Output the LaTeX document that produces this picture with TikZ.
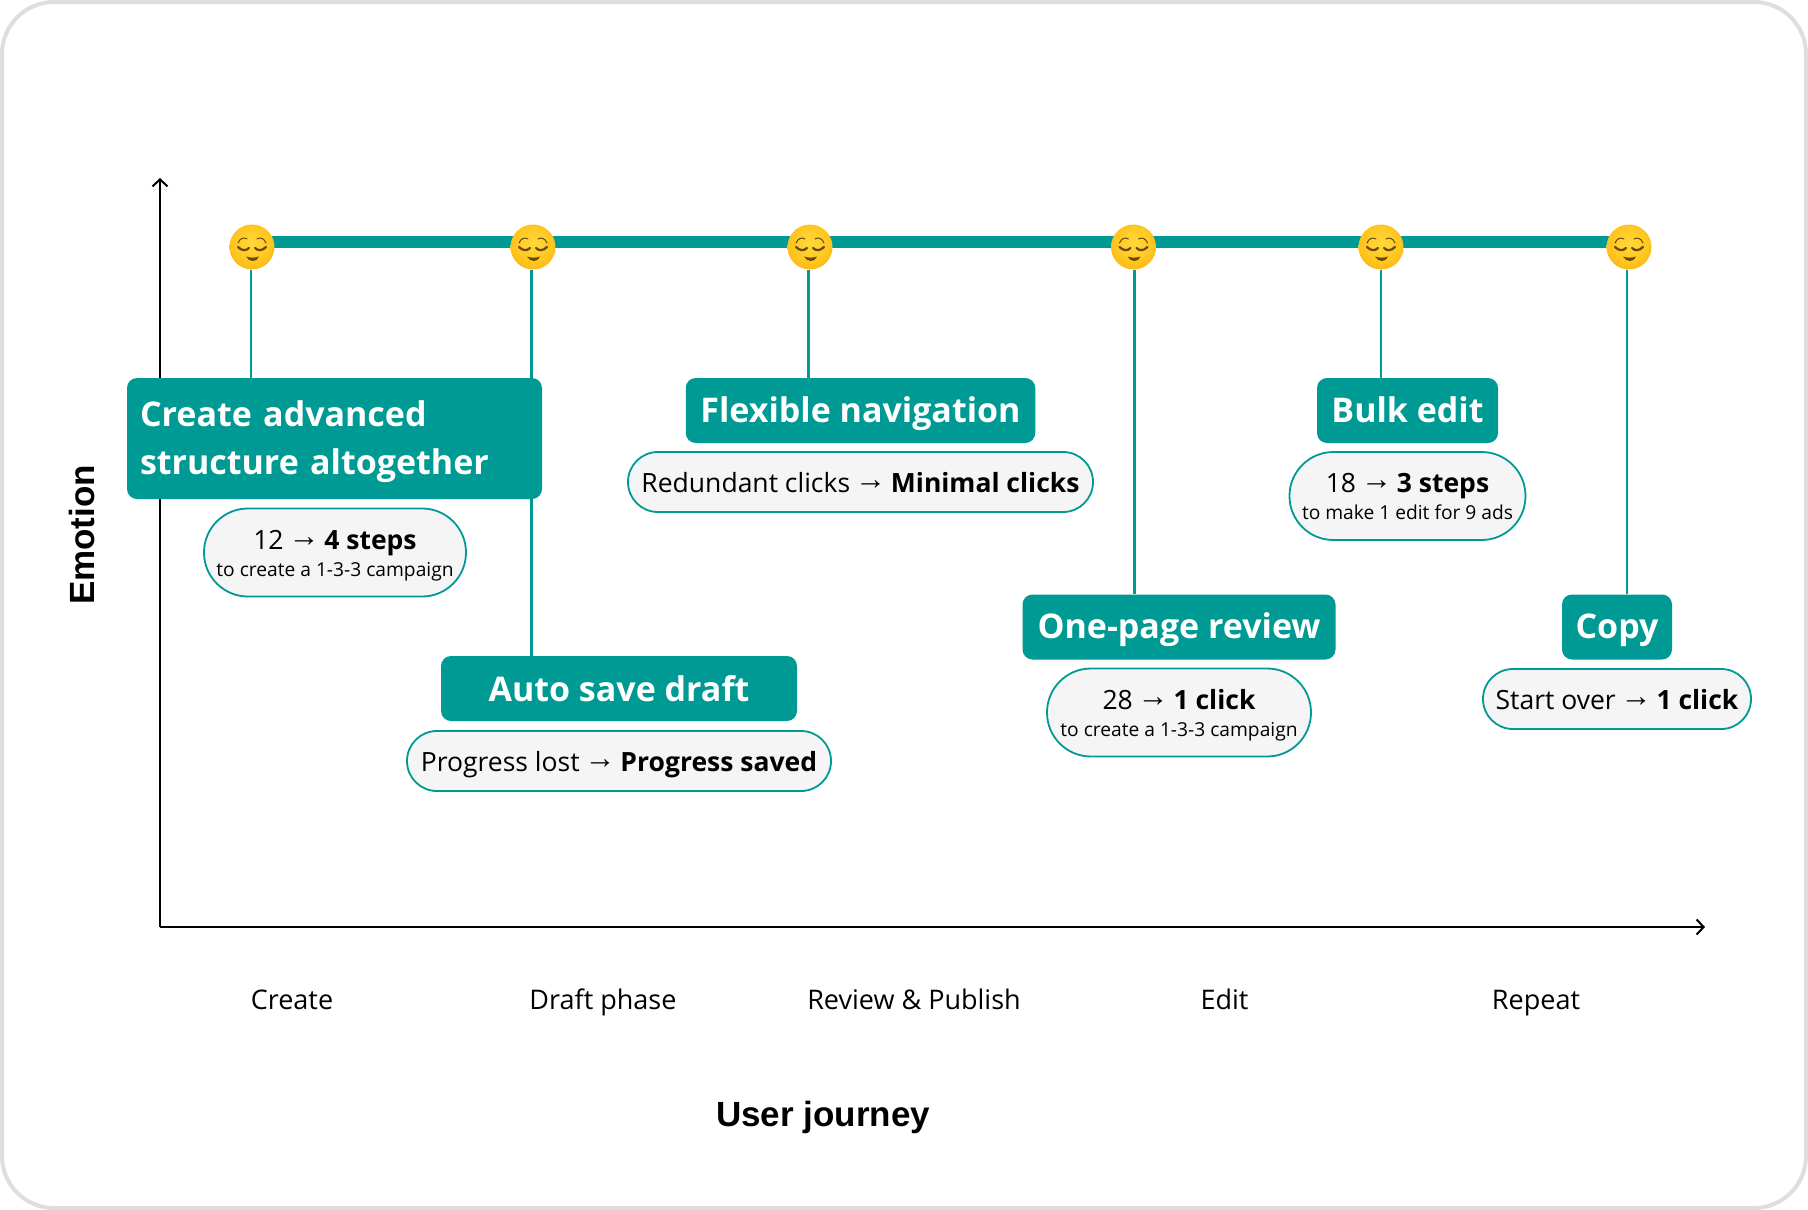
\documentclass[tikz,border=0pt]{standalone}
\usepackage{fontspec}
\setmainfont{Open Sans}
\newfontfamily\arrowfont{Liberation Sans}
\newfontfamily\axisfont{Liberation Sans}
\usetikzlibrary{arrows.meta, backgrounds}
\definecolor{teal1}{HTML}{009A94}
\definecolor{frameline}{HTML}{DEDEDE}
\definecolor{pillfill}{HTML}{F5F5F5}
\definecolor{faceline}{HTML}{6E4412}
\definecolor{faceA1}{HTML}{FFD93A}
\definecolor{faceA2}{HTML}{FFCB25}
\definecolor{faceA3}{HTML}{FFBE1A}
\definecolor{faceA4}{HTML}{F7A40F}
\definecolor{faceA5}{HTML}{E98E0C}
\pgfdeclareradialshading{relieved}{\pgfpoint{0bp}{5bp}}{
	color(0bp)=(faceA1);
	color(16bp)=(faceA2);
	color(26bp)=(faceA3);
	color(34bp)=(faceA4);
	color(40bp)=(faceA5);
	color(100bp)=(faceA5)}
\newcommand{\toarrow}{\kern-2pt\raisebox{3pt}{\arrowfont\fontsize{31}{31}\selectfont\char"2192}\kern-2pt}
\newcommand{\smalltxt}[1]{{\fontsize{19.2}{24}\selectfont #1\rule[-6pt]{0pt}{6pt}}}
\newcommand{\upline}{\rule{0pt}{26pt}}
\tikzset{
	titlebox/.style={fill=teal1, text=white, rounded corners=10pt, inner sep=0pt, font=\fontsize{34}{47.5}\selectfont\bfseries},
	oneline/.style={text height=24pt, text depth=0pt},
	pill/.style={rounded corners=29.9pt, draw=teal1, line width=1.8pt, fill=pillfill, inner sep=0pt, outer sep=0pt, align=center, font=\fontsize{26.5}{32}\selectfont},
	pillflat/.style={pill, text height=20pt, text depth=0pt},
	pilltall/.style={pill, rounded corners=43.9pt},
	stemline/.style={draw=teal1, line width=2.2pt},
	axisline/.style={line width=2pt, -{Straight Barb[length=7pt,width=15pt,line width=2pt]}},
	steplabel/.style={font=\fontsize{27}{32}\selectfont, text height=21pt, text depth=0pt},
	axistitle/.style={font=\fontsize{35}{40}\selectfont\axisfont\bfseries},
	smiley/.style={circle, minimum size=45pt, inner sep=0pt, shading=relieved,
		path picture={
			\begin{scope}[shift={(path picture bounding box.center)}, draw=faceline, line cap=round]
				\draw[line width=2.2pt] (-14,0) .. controls (-10,4) and (-6,4) .. (-3,1);
				\draw[line width=2.2pt] (14,0) .. controls (10,4) and (6,4) .. (3,1);
				\draw[line width=1pt] (-14,-4) .. controls (-12,-9) and (-8,-10) .. (-5,-8);
				\draw[line width=1pt] (14,-4) .. controls (12,-9) and (8,-10) .. (5,-8);
				\fill[faceline] (-6,9.5) .. controls (-2,11) and (3,11) .. (7,9.5) .. controls (5,15.5) and (-3,15.5) .. (-6,9.5);
			\end{scope}
		}},
}
\begin{document}
\begin{tikzpicture}[x=1pt, y=-1pt]
				\useasboundingbox (0,0) rectangle (1808,1210);

				\coordinate (origin) at (160,927);
				\coordinate (ytop) at (160,178);
				\coordinate (xend) at (1705,927);

				\node[smiley] (faceA) at (252,247) {};
				\node[smiley] (faceB) at (533,247) {};
				\node[smiley] (faceC) at (810,247) {};
				\node[smiley] (faceD) at (1133.5,247) {};
				\node[smiley] (faceE) at (1381,247) {};
				\node[smiley] (faceF) at (1629,247) {};

				\node[titlebox, minimum width=415pt, minimum height=121pt, align=left, text width=389pt] (boxA) at (334.5,438.5) {\rule{0pt}{32pt}Create advanced\\structure altogether};
				\node[titlebox, oneline, text height=26pt, minimum width=356pt, minimum height=65pt] (boxB) at (619,688.5) {Auto save draft};
				\node[titlebox, oneline, minimum width=349.5pt, minimum height=65pt] (boxC) at (860.5,410.5) {Flexible navigation};
				\node[titlebox, oneline, text height=22pt, minimum width=313pt, minimum height=65pt] (boxD) at (1179,627) {One-page review};
				\node[titlebox, oneline, minimum width=181pt, minimum height=65pt] (boxE) at (1407.5,410.5) {Bulk edit};
				\node[titlebox, oneline, text height=22pt, minimum width=110pt, minimum height=65pt] (boxF) at (1617,627) {Copy};

				\node[pilltall, minimum width=262pt, minimum height=88pt] (pillA) at (335,552.5) {\upline 12 \toarrow\ \textbf{4 steps}\\[-5pt]\smalltxt{to create a 1-3-3 campaign}};
				\node[pillflat, minimum width=424pt, minimum height=60pt] (pillB) at (619,761) {Progress lost \toarrow\ \textbf{Progress saved}};
				\node[pillflat, minimum width=465pt, minimum height=60pt] (pillC) at (860.5,482) {Redundant clicks \toarrow\ \textbf{Minimal clicks}};
				\node[pilltall, minimum width=264pt, minimum height=88pt] (pillD) at (1179,712.5) {\upline 28 \toarrow\ \textbf{1 click}\\[-5pt]\smalltxt{to create a 1-3-3 campaign}};
				\node[pilltall, minimum width=236pt, minimum height=88pt] (pillE) at (1407.5,496) {\upline 18 \toarrow\ \textbf{3 steps}\\[-5pt]\smalltxt{to make 1 edit for 9 ads}};
				\node[pillflat, minimum width=268pt, minimum height=60pt] (pillF) at (1617,699) {Start over \toarrow\ \textbf{1 click}};

				\node[steplabel] (stepA) at (292,999) {Create};
				\node[steplabel] (stepB) at (603,999) {Draft phase};
				\node[steplabel] (stepC) at (914,999) {Review \& Publish};
				\node[steplabel] (stepD) at (1224.5,999) {Edit};
				\node[steplabel] (stepE) at (1536,999) {Repeat};

				\node[axistitle] (xtitle) at (823,1117) {User journey};
				\node[axistitle, rotate=90] (ytitle) at (82,535) {Emotion};

				\begin{pgfonlayer}{background}
					\draw[draw=frameline, line width=4pt, fill=white, rounded corners=52pt] (2,2) rectangle (1806,1208);

					\draw[axisline] (origin) -- (ytop);
					\draw[axisline] (origin) -- (xend);

					\draw[teal1, line width=12pt] ([yshift=5.5pt]faceA.center) -- ([yshift=5.5pt]faceF.center);

					\draw[stemline] ([xshift=-1pt]faceA.south) -- ([xshift=-1pt]faceA.south |- boxA.north);
					\draw[stemline] ([xshift=-1.5pt]faceB.south) -- ([xshift=-1.5pt]faceB.south |- boxB.north);
					\draw[stemline] ([xshift=-1.5pt]faceC.south) -- ([xshift=-1.5pt]faceC.south |- boxC.north);
					\draw[stemline] ([xshift=1pt]faceD.south) -- ([xshift=1pt]faceD.south |- boxD.north);
					\draw[stemline] (faceE.south) -- (faceE.south |- boxE.north);
					\draw[stemline] ([xshift=-2pt]faceF.south) -- ([xshift=-2pt]faceF.south |- boxF.north);
				\end{pgfonlayer}
\end{tikzpicture}
\end{document}
